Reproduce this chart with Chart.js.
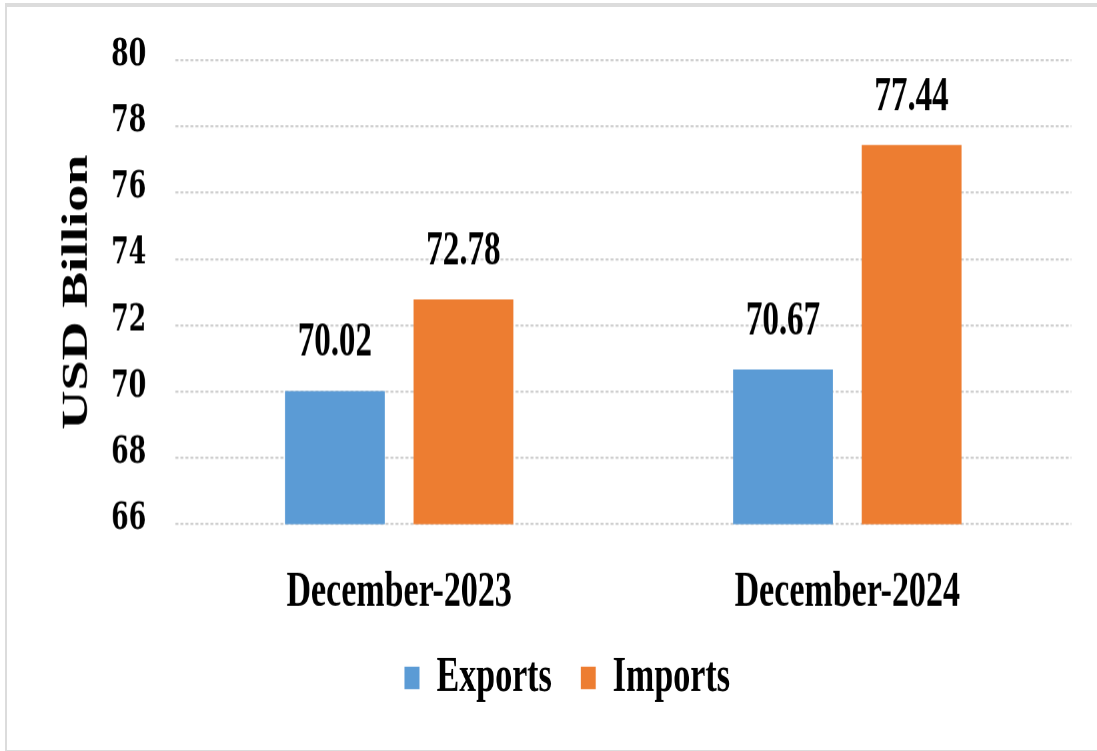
<!DOCTYPE html>
<html>
<head>
<meta charset="utf-8">
<script src="https://cdn.jsdelivr.net/npm/chart.js@4/dist/chart.umd.min.js"></script>
<style>
  html, body { margin: 0; padding: 0; background: #fff; }
  body { width: 1097px; height: 751px; position: relative; overflow: hidden; }
  /* light grey frame around the figure, right edge runs off the picture */
  .frame {
    position: absolute; left: 5px; top: 3px; width: 1200px; height: 743px;
    border-top: 4px solid #dcdcdc; border-left: 2px solid #dcdcdc; border-bottom: 2px solid #dcdcdc;
  }
  /* the source picture is stretched vertically, so the chart is drawn flat and stretched */
  #wrap {
    position: absolute; left: 0; top: 0; width: 1097px; height: 500px;
    transform: scaleY(1.502); transform-origin: 0 0;
  }
</style>
</head>
<body>
<div class="frame"></div>
<div id="wrap"><canvas id="tradeChart"></canvas></div>

<script>
// ---- data ----
const categories    = ['December-2023', 'December-2024'];
const exportsValues = [70.02, 70.67];
const importsValues = [72.78, 77.44];
const seriesNames   = ['Exports', 'Imports'];
const yMin = 66, yMax = 80, yStep = 2;

const SERIF = '"Liberation Serif", "Times New Roman", serif';

// value labels above each bar
const barValueLabels = {
  id: 'barValueLabels',
  afterDatasetsDraw(chart) {
    const ctx = chart.ctx;
    ctx.save();
    ctx.font = 'bold 33px ' + SERIF;
    ctx.fillStyle = '#000';
    ctx.textAlign = 'center';
    ctx.textBaseline = 'alphabetic';
    chart.data.datasets.forEach((ds, di) => {
      chart.getDatasetMeta(di).data.forEach((bar, i) => {
        ctx.fillText(ds.data[i].toFixed(2), bar.x, bar.y - 23.3);
      });
    });
    ctx.restore();
  }
};

new Chart(document.getElementById('tradeChart'), {
  type: 'bar',
  data: {
    labels: categories,
    datasets: [
      { label: seriesNames[0], data: exportsValues, backgroundColor: '#5b9bd5' },
      { label: seriesNames[1], data: importsValues, backgroundColor: '#ed7d31' }
    ]
  },
  options: {
    responsive: true,
    maintainAspectRatio: false,
    animation: false,
    devicePixelRatio: 1.5,
    categoryPercentage: 0.574,
    barPercentage: 0.776,
    layout: { padding: { top: 40, left: 63, right: 26, bottom: 21.6 } },
    plugins: {
      tooltip: { enabled: false },
      legend: {
        position: 'bottom',
        labels: {
          font: { family: SERIF, size: 34, weight: 'bold' },
          color: '#000',
          boxWidth: 15,
          boxHeight: 15,
          padding: 29
        }
      }
    },
    scales: {
      x: {
        grid: { display: false },
        border: { display: false },
        ticks: {
          font: { family: SERIF, size: 34, weight: 'bold' },
          color: '#000',
          padding: 17.4
        },
        afterFit: s => { s.height = 56.4; }
      },
      y: {
        min: yMin,
        max: yMax,
        ticks: {
          stepSize: yStep,
          font: { family: '"DejaVu Serif", serif', size: 25, weight: 'bold', lineHeight: 0.8 },
          color: '#000',
          padding: 29,
          labelOffset: -3.3
        },
        grid: { color: '#cfcfcf', lineWidth: 1.5, drawTicks: false },
        border: { display: false, dash: [3, 2] },
        title: {
          display: true,
          text: 'USD Billion',
          font: { family: SERIF, size: 36, weight: 'bold' },
          color: '#000',
          padding: { top: -7, bottom: 0 }
        },
        afterFit: s => { s.width = 112; }
      }
    }
  },
  plugins: [barValueLabels]
});
</script>
</body>
</html>
